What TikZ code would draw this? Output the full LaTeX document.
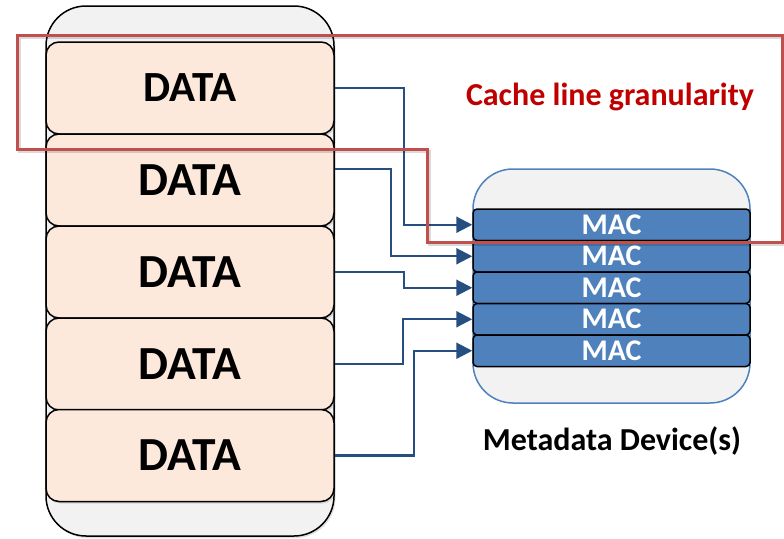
\documentclass[tikz,border=0pt]{standalone}
\usepackage{fontspec}
\setmainfont{Carlito}
\usetikzlibrary{arrows.meta,shadows}
\definecolor{peach}{RGB}{252,233,219}
\definecolor{lgray}{RGB}{242,242,242}
\definecolor{macblue}{RGB}{79,129,189}
\definecolor{linkblue}{RGB}{38,78,128}
\definecolor{redframe}{RGB}{192,80,77}
\definecolor{redtext}{RGB}{192,0,0}
\tikzset{
  container/.style={draw=black, fill=lgray, line width=1.5pt, rounded corners=40pt},
  databox/.style={draw=black, fill=peach, line width=1.5pt, rounded corners=13pt,
    minimum width=288pt, minimum height=92pt, inner sep=0pt,
    font=\fontsize{47.5pt}{47.5pt}\selectfont\bfseries,
    drop shadow={shadow xshift=1.5pt, shadow yshift=-2pt, opacity=0.25}},
  macbox/.style={draw=black, fill=macblue, line width=1.5pt, rounded corners=4pt,
    minimum width=277pt, minimum height=31.5pt, inner sep=0pt, text=white,
    font=\fontsize{30pt}{30pt}\selectfont\bfseries},
  conn/.style={draw=linkblue, line width=2.2pt, -{Triangle[length=16pt,width=16pt]}},
  redline/.style={draw=redframe, line width=3pt}
}
\begin{document}
\begin{tikzpicture}[x=1pt,y=-1pt]
\useasboundingbox (0,0) rectangle (784,538);
% storage container
\path[container, drop shadow={shadow xshift=1.5pt, shadow yshift=-2pt, opacity=0.25}] (46,6) rectangle (334,536);
% metadata container
\path[container, draw=macblue] (473,169) rectangle (750,403);
% data boxes
\node[databox, font=\fontsize{43pt}{43pt}\selectfont\bfseries] (d1) at (190,88) {DATA};
\node[databox] (d2) at (190,180) {DATA};
\node[databox] (d3) at (190,272) {DATA};
\node[databox] (d4) at (190,364) {DATA};
\node[databox] (d5) at (190,455.5) {DATA};
% MAC boxes
\node[macbox] (m1) at (611.5,224.75) {MAC};
\node[macbox] (m2) at (611.5,256.25) {MAC};
\node[macbox] (m3) at (611.5,287.75) {MAC};
\node[macbox] (m4) at (611.5,319.25) {MAC};
\node[macbox] (m5) at (611.5,350.75) {MAC};
% connectors
\draw[conn] (d1.east) -- ++(69,0) |- (m1.west);
\draw[conn] ([yshift=11pt]d2.east) -- ++(56,0) |- (m2.west);
\draw[conn] (d3.east) -- ++(69,0) |- (m3.west);
\draw[conn] (d4.east) -- ++(68,0) |- (m4.west);
\draw[conn] (d5.east) -- ++(79,0) |- (m5.west);
% labels
\node[text=redtext, font=\fontsize{32pt}{32pt}\selectfont\bfseries] (cl) at (610,97) {Cache line granularity};
\node[font=\fontsize{32pt}{32pt}\selectfont\bfseries] (md) at (612,441) {Metadata Device(s)};
% red frame with shadow
\draw[line width=3pt, draw=black, opacity=0.15, shift={(2,2)}] (17,35) -- (782,35) -- (782,242) -- (427,242) -- (427,149) -- (17,149) -- cycle;
\draw[redline] (17,35) -- (782,35) -- (782,242) -- (427,242) -- (427,149) -- (17,149) -- cycle;
\end{tikzpicture}
\end{document}
